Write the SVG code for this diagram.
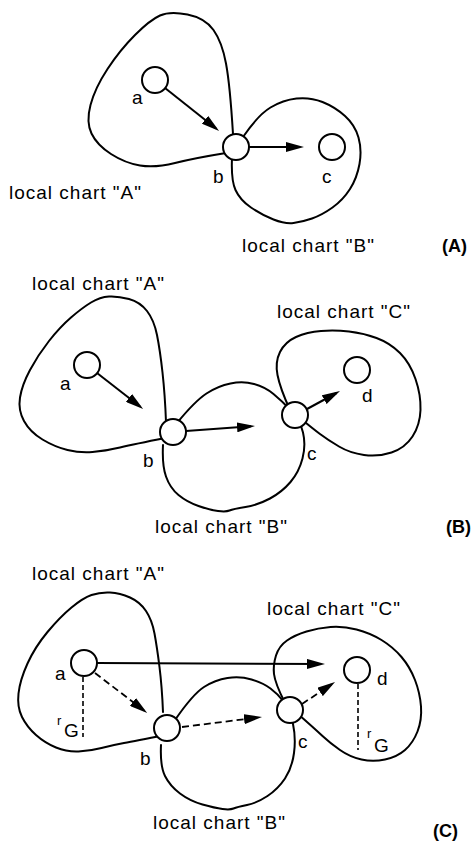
<svg xmlns="http://www.w3.org/2000/svg" width="473" height="841" viewBox="0 0 473 841">
<style>
.chart{fill:none;stroke:#000;stroke-width:2;stroke-linejoin:round;stroke-linecap:round}
.pt{fill:#fff;stroke:#000;stroke-width:2}
.arr{fill:none;stroke:#000;stroke-width:2;marker-end:url(#ah)}
.dash{stroke-dasharray:7 4;stroke-width:1.8}
.rg{fill:none;stroke:#000;stroke-width:1.6;stroke-dasharray:5 3}
.lbl{font-family:"Liberation Sans",Arial,sans-serif;font-size:19px;letter-spacing:1px;fill:#000}
.pl{font-family:"Liberation Sans",Arial,sans-serif;font-size:19px;fill:#000}
.cap{font-family:"Liberation Sans",Arial,sans-serif;font-size:18px;font-weight:bold;fill:#000}
.sm{font-family:"Liberation Sans",Arial,sans-serif;font-size:13px;fill:#000}
</style>
<defs>
<marker id="ah" markerUnits="userSpaceOnUse" viewBox="0 0 18 10" refX="14" refY="5" markerWidth="18" markerHeight="10" orient="auto">
<path d="M0,0 L18,5 L0,10 z" fill="#000" stroke="none"/>
</marker>
</defs>
<rect width="473" height="841" fill="#fff"/>

<!-- Panel A -->
<g id="A-chartA"><path class="chart" d="M233,134 Q230,85 226,63.5 Q222,42 213.5,30 Q205,18 187.5,14.5 Q170,11 160,15.5 Q150,20 135,35 Q120,50 107.5,69 Q95,88 90.5,105 Q86,122 91.5,133.5 Q97,145 111,154 Q125,163 140,165.5 Q155,168 175,163 Q195,158 226,153"/>
<text class="lbl" x="9" y="199">local chart "A"</text></g>
<g id="A-chartB"><path class="chart" d="M243,137 Q258,115 270.5,107.5 Q283,100 296.5,98.5 Q310,97 322.5,102 Q335,107 345,116 Q355,125 358.5,137.5 Q362,150 359.5,164 Q357,178 350,189 Q343,200 332.5,207.5 Q322,215 312,218.5 Q302,222 293.5,223 Q285,224 273.5,219.5 Q262,215 251,207.5 Q240,200 235.5,190 Q231,180 232,158"/>
<text class="lbl" x="242" y="252">local chart "B"</text></g>
<text class="cap" x="442" y="252">(A)</text>
<g id="A-connectors">
<path class="arr" d="M165,88 L216,128.5"/>
<path class="arr" d="M249,147 L300,147"/>
</g>
<g id="A-a"><circle class="pt" cx="155" cy="80" r="13"/><text class="pl" x="132" y="104">a</text></g>
<g id="A-b"><circle class="pt" cx="236" cy="147" r="13"/><text class="pl" x="213" y="183">b</text></g>
<g id="A-c"><circle class="pt" cx="332" cy="147" r="13"/><text class="pl" x="322" y="183">c</text></g>

<!-- Panel B -->
<g id="B-chartA"><path class="chart" d="M166,422 Q165,395 162.5,372.5 Q160,350 157,335 Q154,320 147,311 Q140,302 129,299 Q118,296 109,296.5 Q100,297 91,302.5 Q82,308 71,317.5 Q60,327 49,341 Q38,355 30,370 Q22,385 20,397.5 Q18,410 24,421 Q30,432 42.5,439.5 Q55,447 67.5,450 Q80,453 92.5,452 Q105,451 120,447.5 Q135,444 165,438"/>
<text class="lbl" x="32" y="290">local chart "A"</text></g>
<g id="B-chartB"><path class="chart" d="M177,423 Q195,401 206.5,393.5 Q218,386 230.5,383.5 Q243,381 254,384 Q265,387 273.5,394 Q282,401 291,410.5 Q300,420 303,432.5 Q306,445 302.5,458.5 Q299,472 290.5,482 Q282,492 270,498.5 Q258,505 245.5,507 Q233,509 229.5,510.5 Q226,512 218,511 Q210,510 198.5,506 Q187,502 178.5,495 Q170,488 166,476.5 Q162,465 163,445"/>
<text class="lbl" x="155" y="533">local chart "B"</text></g>
<g id="B-chartC"><path class="chart" d="M290,410 Q280,388 277.5,375 Q275,362 280,352 Q285,342 296,337 Q307,332 321,331 Q335,330 349,331.5 Q363,333 376.5,338 Q390,343 400,353 Q410,363 415.5,379 Q421,395 420.5,410 Q420,425 412.5,436.5 Q405,448 391.5,452.5 Q378,457 364,455 Q350,453 339,446.5 Q328,440 320,434 Q312,428 300,418"/>
<text class="lbl" x="277" y="318">local chart "C"</text></g>
<text class="cap" x="446" y="533">(B)</text>
<g id="B-connectors">
<path class="arr" d="M97,373 L140,406.5"/>
<path class="arr" d="M186,431 L251,426.3"/>
<path class="arr" d="M307,409 L336.5,393"/>
</g>
<g id="B-a"><circle class="pt" cx="87" cy="365" r="13"/><text class="pl" x="60" y="390">a</text></g>
<g id="B-b"><circle class="pt" cx="173" cy="432" r="13"/><text class="pl" x="143" y="467">b</text></g>
<g id="B-c"><circle class="pt" cx="295" cy="415" r="13"/><text class="pl" x="307" y="460">c</text></g>
<g id="B-d"><circle class="pt" cx="357" cy="370" r="13"/><text class="pl" x="362" y="402">d</text></g>

<!-- Panel C -->
<g id="C-chartA"><path class="chart" d="M163,712 Q162,687 159.5,667 Q157,647 154.5,633.5 Q152,620 146,611 Q140,602 130,597.5 Q120,593 110,592.5 Q100,592 91.5,595 Q83,598 71.5,607.5 Q60,617 47.5,632 Q35,647 27.5,663.5 Q20,680 18.5,693.5 Q17,707 22,717 Q27,727 36,735 Q45,743 56,747.5 Q67,752 78.5,751.5 Q90,751 101.5,748 Q113,745 124,743 Q135,741 165,735"/>
<text class="lbl" x="32" y="580">local chart "A"</text></g>
<g id="C-chartB"><path class="chart" d="M175,720 Q193,694 204,687 Q215,680 227.5,678 Q240,676 251.5,679.5 Q263,683 270.5,688.5 Q278,694 284,702 Q290,710 293,724 Q296,738 294,753 Q292,768 285,778.5 Q278,789 267.5,796 Q257,803 247,805 Q237,807 233.5,808.5 Q230,810 222.5,809 Q215,808 202.5,804.5 Q190,801 180,793.5 Q170,786 165,776 Q160,766 161,745"/>
<text class="lbl" x="153" y="829">local chart "B"</text></g>
<g id="C-chartC"><path class="chart" d="M285,703 Q275,683 274,674 Q273,665 276,655.5 Q279,646 287,640.5 Q295,635 306.5,631.5 Q318,628 330.5,627 Q343,626 356.5,629.5 Q370,633 381.5,640 Q393,647 401.5,657 Q410,667 415,680 Q420,693 421,706.5 Q422,720 417.5,731.5 Q413,743 405,750 Q397,757 385,759.5 Q373,762 361.5,759.5 Q350,757 340,750 Q330,743 322.5,736 Q315,729 298,714"/>
<text class="lbl" x="267" y="615">local chart "C"</text></g>
<text class="cap" x="433" y="837">(C)</text>
<g id="C-connectors">
<path class="arr" d="M97,663 L321,664"/>
<path class="arr dash" d="M95,673 L144,710.5"/>
<path class="arr dash" d="M182,727 L258,717.5"/>
<path class="arr dash" d="M302,704 L331.7,684.2"/>
<path class="rg" d="M83,677 L83,737"/>
<path class="rg" d="M358,684 L358,750"/>
</g>
<g id="C-a"><circle class="pt" cx="84" cy="663" r="13"/><text class="pl" x="55" y="680">a</text></g>
<g id="C-b"><circle class="pt" cx="167" cy="728" r="13"/><text class="pl" x="140" y="765">b</text></g>
<g id="C-c"><circle class="pt" cx="290" cy="710" r="13"/><text class="pl" x="298" y="748">c</text></g>
<g id="C-d"><circle class="pt" cx="357" cy="670" r="13"/><text class="pl" x="377" y="685">d</text></g>
<g id="C-rG1"><text class="sm" x="57" y="725">r</text><text class="pl" x="64" y="737">G</text></g>
<g id="C-rG2"><text class="sm" x="367" y="738">r</text><text class="pl" x="374" y="752">G</text></g>
</svg>
